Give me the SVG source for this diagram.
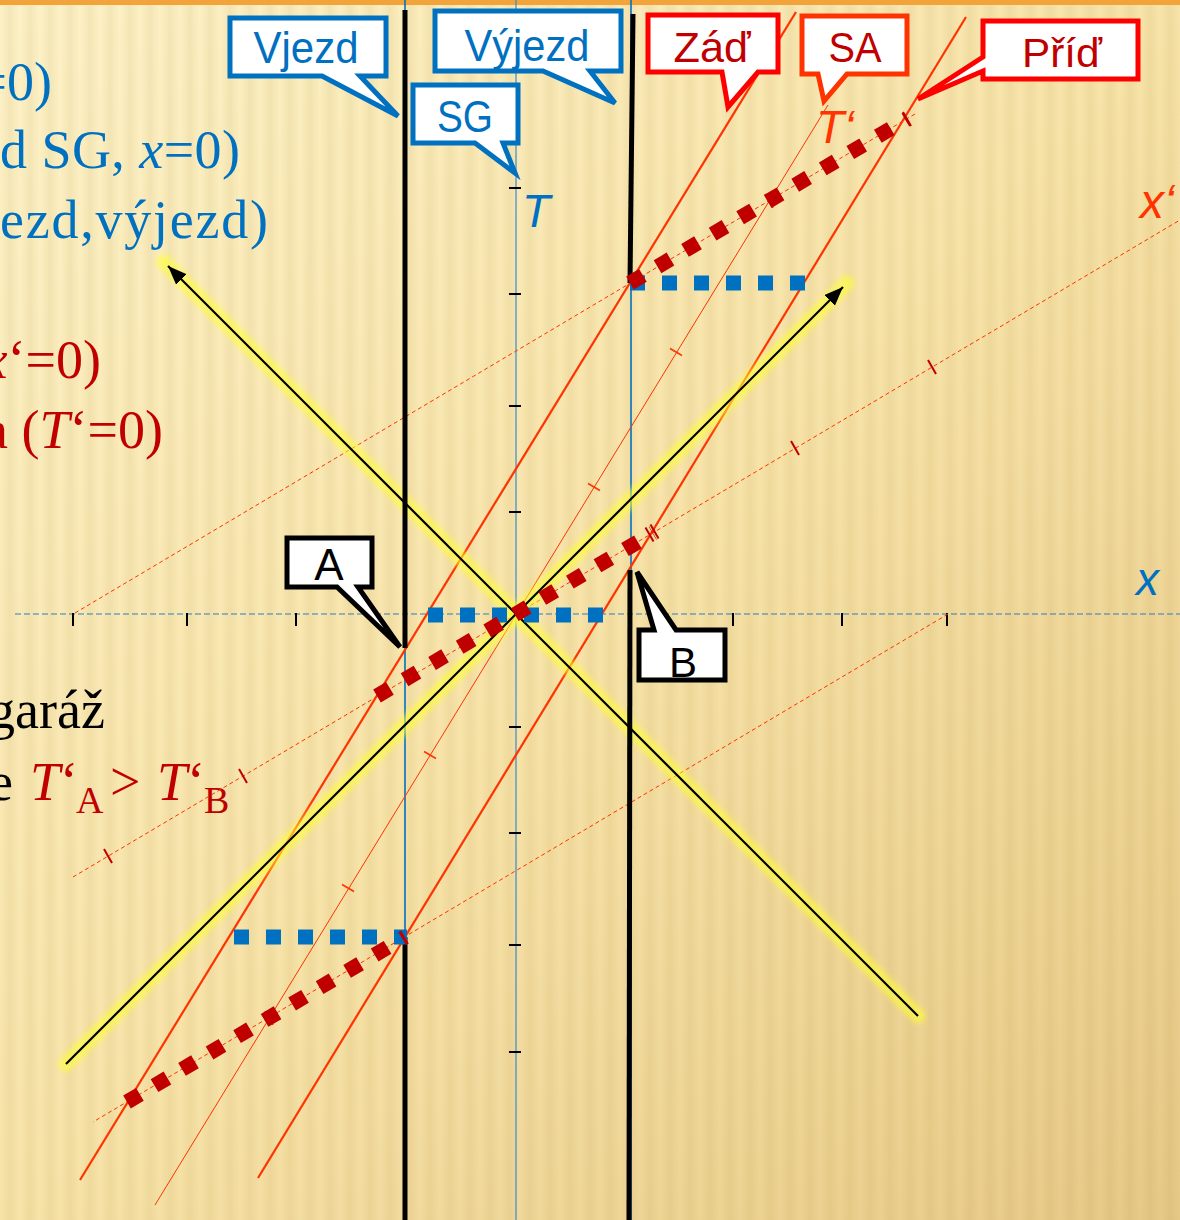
<svg xmlns="http://www.w3.org/2000/svg" width="1180" height="1220" viewBox="0 0 1180 1220">
<style>
.cb{fill:#fff;stroke-width:5;stroke-linejoin:miter}
.blue{stroke:#0070C0}
.lbl{font-family:"Liberation Sans",Arial,sans-serif;text-anchor:middle}
.ser{font-family:"Liberation Serif","Times New Roman",serif;font-size:54px}
.wl{stroke:#FF3300;fill:none}
.dsh{stroke:#FF3300;stroke-width:1;stroke-dasharray:4 3;fill:none}
.tk{stroke:#C00000;stroke-width:2}
.tko{stroke:#FF3300;stroke-width:1.5}
.bsq{stroke:#0070C0;stroke-width:15;stroke-dasharray:15 17;fill:none}
.rsq{stroke:#C00000;stroke-width:15;stroke-dasharray:15 17;fill:none}
.glow{stroke:#FFFF30;stroke-opacity:0.6;stroke-width:15;stroke-linecap:round;fill:none;filter:url(#blur)}
.cone{stroke:#000;stroke-width:2.2;fill:none;marker-end:url(#arr)}
.wall{stroke:#000;stroke-width:5}
</style>
<defs>
<linearGradient id="bg" x1="0" y1="0" x2="1" y2="1">
<stop offset="0" stop-color="#FDF2C8"/>
<stop offset="0.5" stop-color="#F8E4AA"/>
<stop offset="1" stop-color="#E6C987"/>
</linearGradient>
<linearGradient id="stripeGrad" x1="0" y1="0" x2="1" y2="0">
<stop offset="0" stop-color="#A07820" stop-opacity="0"/>
<stop offset="0.5" stop-color="#A07820" stop-opacity="0.09"/>
<stop offset="1" stop-color="#A07820" stop-opacity="0"/>
</linearGradient>
<pattern id="stripes" width="20" height="1220" patternUnits="userSpaceOnUse">
<rect x="0" y="0" width="20" height="1220" fill="url(#stripeGrad)"/>
</pattern>
<filter id="blur" x="-10%" y="-10%" width="120%" height="120%"><feGaussianBlur stdDeviation="2.5"/></filter>
<marker id="arr" markerUnits="userSpaceOnUse" markerWidth="22" markerHeight="18" refX="19" refY="7.5" orient="auto">
<path d="M0,0 L19,7.5 L0,15 Z" fill="#000"/>
</marker>
</defs>

<g id="background">
<rect x="0" y="0" width="1180" height="1220" fill="url(#bg)"/>
<rect x="0" y="0" width="1180" height="1220" fill="url(#stripes)"/>
<rect x="0" y="0" width="1180" height="5" fill="#F2A33A"/>
</g>

<g id="left-text">
<text class="ser" x="52" y="100" text-anchor="end" fill="#0070C0">=0)</text>
<text class="ser" x="0" y="168" fill="#0070C0" textLength="240">d SG, <tspan font-style="italic">x</tspan>=0)</text>
<text class="ser" x="0" y="238" fill="#0070C0" textLength="268">ezd,výjezd)</text>
<text class="ser" x="101" y="378" text-anchor="end" fill="#C00000"><tspan font-style="italic">x</tspan>‘=0)</text>
<text class="ser" x="163" y="448" text-anchor="end" fill="#C00000">a (<tspan font-style="italic">T</tspan>‘=0)</text>
<text class="ser" x="105" y="728" text-anchor="end" fill="#000">garáž</text>
<text class="ser" x="13" y="800" text-anchor="end" fill="#000">e</text>
<text class="ser" y="800" fill="#C00000"><tspan x="30" font-style="italic">T</tspan><tspan>‘</tspan><tspan x="76" y="813" style="font-size:38px">A</tspan><tspan x="110" y="800">&gt;</tspan><tspan x="157" font-style="italic">T</tspan><tspan>‘</tspan><tspan x="204" y="813" style="font-size:38px">B</tspan></text>
</g>

<g id="axes">
<line x1="516" y1="0" x2="516" y2="1220" stroke="#3A8AD0" stroke-width="1.2"/>
<line x1="15" y1="614" x2="1180" y2="614" stroke="#2E7DC0" stroke-width="1.2" stroke-dasharray="6 3"/>
<g stroke="#000" stroke-width="2">
<line x1="73" y1="613" x2="73" y2="626"/>
<line x1="187" y1="613" x2="187" y2="626"/>
<line x1="296" y1="613" x2="296" y2="626"/>
<line x1="733" y1="613" x2="733" y2="626"/>
<line x1="842" y1="613" x2="842" y2="626"/>
<line x1="947" y1="613" x2="947" y2="626"/>
<line x1="509" y1="188" x2="521" y2="188"/>
<line x1="509" y1="294" x2="521" y2="294"/>
<line x1="509" y1="406" x2="521" y2="406"/>
<line x1="509" y1="512" x2="521" y2="512"/>
<line x1="509" y1="727" x2="521" y2="727"/>
<line x1="509" y1="833" x2="521" y2="833"/>
<line x1="509" y1="945" x2="521" y2="945"/>
<line x1="509" y1="1052" x2="521" y2="1052"/>
</g>
<text x="522" y="227" font-family="Liberation Sans, Arial, sans-serif" font-style="italic" font-size="46" fill="#0070C0">T</text>
<text x="1136" y="595" font-family="Liberation Sans, Arial, sans-serif" font-style="italic" font-size="46" fill="#0070C0">x</text>
<text x="816" y="143" font-family="Liberation Sans, Arial, sans-serif" font-style="italic" font-size="46" fill="#FF3300">T‘</text>
<text x="1140" y="218" font-family="Liberation Sans, Arial, sans-serif" font-style="italic" font-size="48" fill="#FF3300">x‘</text>
</g>

<g id="connectors">
<line x1="405" y1="0" x2="405" y2="1220" stroke="#0070C0" stroke-width="1.6"/>
<line x1="631" y1="0" x2="631" y2="1220" stroke="#0070C0" stroke-width="1.6"/>
<line class="dsh" x1="73" y1="877" x2="1180" y2="220"/>
<line class="dsh" x1="75" y1="613" x2="915" y2="114"/>
<line class="dsh" x1="948" y1="614" x2="93" y2="1122"/>
<line class="wl" stroke-width="2.2" x1="80" y1="1180" x2="796" y2="12"/>
<line class="wl" stroke-width="1" x1="155" y1="1205" x2="828" y2="105"/>
<line class="wl" stroke-width="2.2" x1="258" y1="1178" x2="966" y2="17"/>
<line class="tk" x1="104" y1="849" x2="112" y2="863"/>
<line class="tk" x1="239" y1="769" x2="247" y2="783"/>
<line class="tk" x1="645.5" y1="527.5" x2="653.5" y2="541.5"/>
<line class="tk" x1="650.5" y1="524.5" x2="658.5" y2="538.5"/>
<line class="tk" x1="791" y1="441" x2="799" y2="455"/>
<line class="tk" x1="928" y1="360" x2="936" y2="374"/>
<line class="tk" x1="903" y1="112" x2="911" y2="126"/>
<line class="tko" x1="765" y1="194" x2="773" y2="208"/>
<line class="tko" x1="265" y1="1011" x2="273" y2="1025"/>
<line class="tko" x1="588" y1="483.5" x2="600" y2="490.5"/>
<line class="tko" x1="670" y1="348.5" x2="682" y2="355.5"/>
<line class="tko" x1="424" y1="751.5" x2="436" y2="758.5"/>
<line class="tko" x1="342" y1="884.5" x2="354" y2="891.5"/>
<line class="glow" x1="918" y1="1016" x2="164" y2="262"/>
<line class="glow" x1="66" y1="1064" x2="847" y2="283"/>
<line class="cone" x1="918" y1="1016" x2="168" y2="266"/>
<line class="cone" x1="66" y1="1064" x2="843" y2="287"/>
<line class="wall" x1="405" y1="10" x2="405" y2="648"/>
<line class="wall" x1="405" y1="937" x2="405" y2="1220"/>
<line class="wall" x1="633" y1="14" x2="630" y2="283"/>
<line class="wall" x1="630" y1="570" x2="629" y2="1220"/>
<line class="bsq" x1="630" y1="283" x2="806" y2="283"/>
<line class="bsq" x1="428" y1="615" x2="603" y2="615"/>
<line class="bsq" x1="234" y1="937" x2="407" y2="937"/>
<line class="rsq" x1="630" y1="283" x2="907" y2="119"/>
<line class="rsq" x1="377" y1="696" x2="653" y2="533"/>
<line class="rsq" x1="127" y1="1102" x2="405" y2="937"/>
</g>

<g id="callout-vjezd">
<path class="cb blue" d="M230,18 H386 V76 H360 L398,116 L322,76 H230 Z"/>
<text class="lbl" x="306" y="63" font-size="44" fill="#0070C0" textLength="105" lengthAdjust="spacingAndGlyphs">Vjezd</text>
</g>
<g id="callout-vyjezd">
<path class="cb blue" d="M435,11 H621 V71 H590 L615,103 L543,71 H435 Z"/>
<text class="lbl" x="527" y="61" font-size="44" fill="#0070C0" textLength="125" lengthAdjust="spacingAndGlyphs">Výjezd</text>
</g>
<g id="callout-sg">
<path class="cb blue" d="M413,85 H518 V143 H503 L515,173 L475,143 H413 Z"/>
<text class="lbl" x="465" y="132" font-size="44" fill="#0070C0" textLength="56" lengthAdjust="spacingAndGlyphs">SG</text>
</g>
<g id="callout-zad">
<path class="cb" stroke="#FF0000" d="M648,15 H778 V72 H758 L728,107 L722,72 H648 Z"/>
<text class="lbl" x="712" y="62" font-size="42" fill="#C00000" textLength="77" lengthAdjust="spacingAndGlyphs">Záď</text>
</g>
<g id="callout-sa">
<path class="cb" stroke="#FF3300" d="M802,16 H907 V74 H847 L824,101 L818,74 H802 Z"/>
<text class="lbl" x="855" y="62" font-size="42" fill="#C00000" textLength="53" lengthAdjust="spacingAndGlyphs">SA</text>
</g>
<g id="callout-prid">
<path class="cb" stroke="#FF0000" d="M983,21 H1138 V79 H983 V71 L918,99 L983,57 Z"/>
<text class="lbl" x="1062" y="67" font-size="41" fill="#C00000" textLength="80" lengthAdjust="spacingAndGlyphs">Příď</text>
</g>
<g id="callout-a">
<path class="cb" stroke="#000" d="M287,538 H372 V587 H358 L400,647 L337,587 H287 Z"/>
<text class="lbl" x="329" y="580" font-size="44" fill="#000">A</text>
</g>
<g id="callout-b">
<path class="cb" stroke="#000" d="M639,630 H654 L637,572 L676,630 H725 V680 H639 Z"/>
<text class="lbl" x="683" y="677" font-size="42" fill="#000">B</text>
</g>
</svg>
